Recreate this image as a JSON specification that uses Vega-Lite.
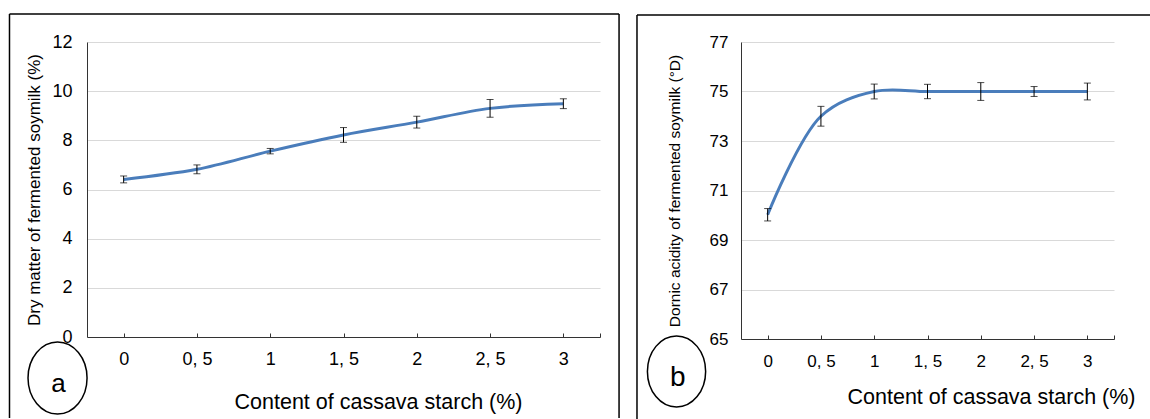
{
  "$schema": "https://vega.github.io/schema/vega-lite/v6.json",
  "background": "white",
  "padding": {"left": 8, "top": 13, "right": 0, "bottom": 0},
  "spacing": 16,
  "datasets": {
    "a": [
      {"c": 0, "v": 6.41, "e": 0.14},
      {"c": 0.5, "v": 6.82, "e": 0.18},
      {"c": 1, "v": 7.56, "e": 0.11},
      {"c": 1.5, "v": 8.22, "e": 0.3},
      {"c": 2, "v": 8.74, "e": 0.24},
      {"c": 2.5, "v": 9.3, "e": 0.36},
      {"c": 3, "v": 9.49, "e": 0.2}
    ],
    "b": [
      {"c": 0, "v": 70.02, "e": 0.25},
      {"c": 0.5, "v": 74.0, "e": 0.4},
      {"c": 1, "v": 75.0, "e": 0.3},
      {"c": 1.5, "v": 75.0, "e": 0.29},
      {"c": 2, "v": 75.0, "e": 0.36},
      {"c": 2.5, "v": 75.0, "e": 0.2},
      {"c": 3, "v": 75.0, "e": 0.34}
    ],
    "one": [{}]
  },
  "config": {
    "view": {"stroke": null},
    "font": "Liberation Sans",
    "axis": {
      "domainColor": "#333333",
      "domainWidth": 1,
      "labelColor": "#000000",
      "titleColor": "#000000",
      "titleFontWeight": "normal",
      "labelFont": "Liberation Sans",
      "titleFont": "Liberation Sans",
      "gridColor": "#d9d9d9",
      "gridWidth": 1
    }
  },
  "hconcat": [
    {
      "width": 513,
      "height": 295,
      "encoding": {
        "x": {
          "type": "quantitative",
          "scale": {"domain": [-0.25, 3.25], "nice": false, "zero": false},
          "axis": {
            "values": [0, 0.5, 1, 1.5, 2, 2.5, 3, 3.25],
            "format": "~g",
            "labelExpr": "datum.value == 3.25 ? '' : replace(datum.label, '.', ', ')",
            "grid": false,
            "tickColor": "#333333",
            "tickSize": -4,
            "labelPadding": 17,
            "labelFontSize": 18,
            "title": "Content of cassava starch (%)",
            "titleFontSize": 21.5,
            "titleX": 291,
            "titleY": 54,
            "titleBaseline": "top",
            "titleAnchor": "middle"
          }
        },
        "y": {
          "type": "quantitative",
          "scale": {"domain": [0, 12], "nice": false, "zero": false},
          "axis": {
            "values": [0, 2, 4, 6, 8, 10, 12],
            "grid": true,
            "ticks": false,
            "labelPadding": 15,
            "labelFontSize": 18,
            "title": "Dry matter of fermented soymilk (%)",
            "titleFontSize": 17,
            "titlePadding": 8
          }
        }
      },
      "layer": [
        {
          "data": {"name": "a"},
          "mark": {"type": "line", "interpolate": "catmull-rom", "color": "#4a7dbb", "strokeWidth": 3},
          "encoding": {
            "x": {"field": "c"},
            "y": {"field": "v"}
          }
        },
        {
          "data": {"name": "a"},
          "mark": {"type": "errorbar", "ticks": {"size": 7, "thickness": 1, "color": "#000000"}, "rule": {"color": "#000000", "strokeWidth": 1}},
          "encoding": {
            "x": {"field": "c"},
            "y": {"field": "v"},
            "yError": {"field": "e"}
          }
        },
        {
          "data": {"name": "one"},
          "mark": {"type": "rule", "color": "#000000", "strokeWidth": 1.5},
          "encoding": {
            "x": {"datum": -0.7788},
            "y": {"datum": 13.139},
            "y2": {"datum": -3.29}
          }
        },
        {
          "data": {"name": "one"},
          "mark": {"type": "rule", "color": "#000000", "strokeWidth": 1.5},
          "encoding": {
            "x": {"datum": 3.38},
            "y": {"datum": 13.139},
            "y2": {"datum": -3.29}
          }
        },
        {
          "data": {"name": "one"},
          "mark": {"type": "rule", "color": "#000000", "strokeWidth": 1.5},
          "encoding": {
            "x": {"datum": -0.7788},
            "x2": {"datum": 3.38},
            "y": {"datum": 13.139}
          }
        },
        {
          "data": {"name": "one"},
          "mark": {"type": "point", "shape": "M0,-1A0.82,1 0 1,1 0,1A0.82,1 0 1,1 0,-1Z", "size": 5184, "filled": false, "stroke": "#000000", "strokeWidth": 1.5, "opacity": 1},
          "encoding": {
            "x": {"datum": -0.451},
            "y": {"datum": -1.668}
          }
        },
        {
          "data": {"name": "one"},
          "mark": {"type": "text", "text": "a", "fontSize": 26, "align": "center", "baseline": "alphabetic", "color": "#000000", "font": "Liberation Sans"},
          "encoding": {
            "x": {"datum": -0.4445},
            "y": {"datum": -2.237}
          }
        }
      ]
    },
    {
      "width": 373,
      "height": 297,
      "encoding": {
        "x": {
          "type": "quantitative",
          "scale": {"domain": [-0.25, 3.25], "nice": false, "zero": false},
          "axis": {
            "values": [0, 0.5, 1, 1.5, 2, 2.5, 3, 3.25],
            "format": "~g",
            "labelExpr": "datum.value == 3.25 ? '' : replace(datum.label, '.', ', ')",
            "grid": false,
            "tickColor": "#333333",
            "tickSize": -4,
            "labelPadding": 18,
            "labelFontSize": 17,
            "title": "Content of cassava starch (%)",
            "titleFontSize": 21.5,
            "titleX": 250,
            "titleY": 47,
            "titleBaseline": "top",
            "titleAnchor": "middle"
          }
        },
        "y": {
          "type": "quantitative",
          "scale": {"domain": [65, 77], "nice": false, "zero": false},
          "axis": {
            "values": [65, 67, 69, 71, 73, 75, 77],
            "grid": true,
            "ticks": false,
            "labelPadding": 13,
            "labelFontSize": 17,
            "title": "Dornic acidity of fermented soymilk (°D)",
            "titleFontSize": 15.5,
            "titlePadding": 27
          }
        }
      },
      "layer": [
        {
          "data": {"name": "b"},
          "mark": {"type": "line", "interpolate": "catmull-rom", "color": "#4a7dbb", "strokeWidth": 3},
          "encoding": {
            "x": {"field": "c"},
            "y": {"field": "v"}
          }
        },
        {
          "data": {"name": "b"},
          "mark": {"type": "errorbar", "ticks": {"size": 7, "thickness": 1, "color": "#000000"}, "rule": {"color": "#000000", "strokeWidth": 1}},
          "encoding": {
            "x": {"field": "c"},
            "y": {"field": "v"},
            "yError": {"field": "e"}
          }
        },
        {
          "data": {"name": "one"},
          "mark": {"type": "rule", "color": "#000000", "strokeWidth": 1.5},
          "encoding": {
            "x": {"datum": -1.226},
            "y": {"datum": 78.09},
            "y2": {"datum": 61.75}
          }
        },
        {
          "data": {"name": "one"},
          "mark": {"type": "rule", "color": "#000000", "strokeWidth": 1.5},
          "encoding": {
            "x": {"datum": -1.226},
            "x2": {"datum": 3.588},
            "y": {"datum": 78.09}
          }
        },
        {
          "data": {"name": "one"},
          "mark": {"type": "point", "shape": "M0,-1A0.82,1 0 1,1 0,1A0.82,1 0 1,1 0,-1Z", "size": 5041, "filled": false, "stroke": "#000000", "strokeWidth": 1.5, "opacity": 1},
          "encoding": {
            "x": {"datum": -0.855},
            "y": {"datum": 63.687}
          }
        },
        {
          "data": {"name": "one"},
          "mark": {"type": "text", "text": "b", "fontSize": 28, "align": "center", "baseline": "alphabetic", "color": "#000000", "font": "Liberation Sans"},
          "encoding": {
            "x": {"datum": -0.844},
            "y": {"datum": 63.1}
          }
        }
      ]
    }
  ]
}
